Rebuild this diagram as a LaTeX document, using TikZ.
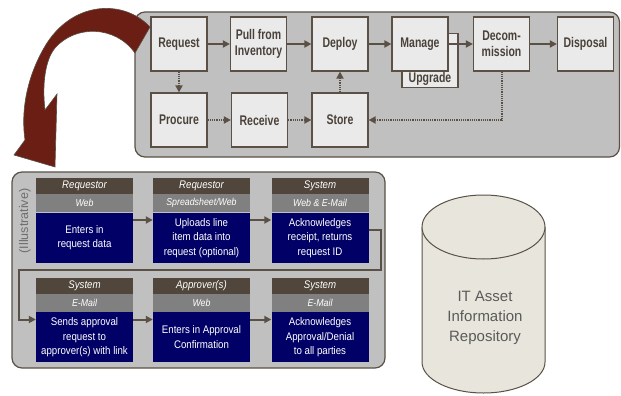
\documentclass[tikz,border=0pt]{standalone}
\usepackage{fontspec}
\setmainfont{Liberation Sans}
\newfontfamily\narrowfont[FakeStretch=0.75]{Liberation Sans}
\newfontfamily\cardfont[FakeStretch=0.88]{Liberation Sans}
\usetikzlibrary{arrows.meta,positioning}
\definecolor{edge}{RGB}{90,80,70}
\definecolor{panel}{RGB}{192,192,192}
\definecolor{boxfill}{RGB}{234,234,234}
\definecolor{boxtext}{RGB}{74,66,58}
\definecolor{headbrown}{RGB}{80,70,60}
\definecolor{toolgray}{RGB}{128,128,128}
\definecolor{navy}{RGB}{0,0,102}
\definecolor{arrowred}{RGB}{107,31,20}
\definecolor{cylfill}{RGB}{232,230,220}
\definecolor{repotext}{RGB}{90,90,90}
\definecolor{illgray}{RGB}{110,110,110}
\begin{document}
\begin{tikzpicture}[x=1pt, y=-1pt,
  box/.style={draw=edge, line width=1.2pt, fill=boxfill, minimum width=56pt,
    minimum height=54pt, inner sep=1pt, align=center, text=boxtext,
    font=\narrowfont\bfseries\fontsize{14}{16.5}\selectfont},
  flow/.style={draw=edge, line width=2pt, -{Triangle[length=7pt,width=7pt]}},
  flowdot/.style={flow, dash pattern=on 1.2pt off 1pt},
  card/.style={minimum width=97pt, minimum height=84pt, inner sep=0pt},
  head/.style={fill=headbrown, text=white, minimum width=97pt, minimum height=16pt,
    inner sep=0pt, anchor=north, font=\cardfont\itshape\fontsize{11}{11}\selectfont},
  tool/.style={fill=toolgray, text=white, minimum width=97pt, minimum height=18pt,
    inner sep=0pt, font=\cardfont\itshape\fontsize{10}{10}\selectfont},
  body/.style={fill=navy, text=white, minimum width=97pt, minimum height=50pt,
    inner sep=0pt, align=center, font=\cardfont\fontsize{11}{14.5}\selectfont}]
  \useasboundingbox (0,0) rectangle (621,396);
  % lifecycle panel
  \draw[edge, fill=panel, line width=1.2pt, rounded corners=10pt] (135,12) rectangle (619.5,157);
  % big curved arrow down to the request steps
  \filldraw[fill=arrowred, draw=edge, line width=0.6pt]
    (150,27) .. controls (125,0) and (75,0) .. (47,43)
    .. controls (30,70) and (20,105) .. (25,140) -- (14,155) -- (55,167) -- (57,94)
    -- (45,110) .. controls (42,85) and (45,60) .. (55,48)
    .. controls (75,25) and (115,25) .. (135,53) -- cycle;
  % lifecycle boxes
  \node[box, label={[anchor=south, inner sep=2pt, text=boxtext,
    font=\narrowfont\bfseries\fontsize{14}{16.5}\selectfont]south:Upgrade}]
    (upgrade) at (430,60.5) {};
  \node[box] (request) at (179,44) {Request};
  \node[box] (pull) at (258.5,44) {Pull from\\Inventory};
  \node[box] (deploy) at (340,44) {Deploy};
  \node[box] (manage) at (420,44) {Manage};
  \node[box] (decom) at (501.5,44) {Decom-\\mission};
  \node[box] (disposal) at (585.5,44) {Disposal};
  \node[box] (procure) at (179,120) {Procure};
  \node[box] (receive) at (259.5,120) {Receive};
  \node[box] (store) at (340,120) {Store};
  \draw[flow] (request) -- (pull);
  \draw[flow] (pull) -- (deploy);
  \draw[flow] (deploy) -- (manage);
  \draw[flow] (manage) -- (decom);
  \draw[flow] (decom) -- (disposal);
  \draw[flowdot] (request) -- (procure);
  \draw[flowdot] (procure) -- (receive);
  \draw[flowdot] (receive) -- (store);
  \draw[flowdot] (store) -- (deploy);
  \draw[flowdot] (decom.south) |- (store.east);
  % request steps panel
  \draw[edge, fill=panel, line width=1.2pt, rounded corners=10pt] (12,172) rectangle (385,368);
  \node[rotate=90, text=illgray, font=\fontsize{12.5}{14}\selectfont] (illus) at (25,221) {(Illustrative)};
  % first row
  \node[card] (c1) at (84.5,220) {};
  \node[head] (c1h) at (c1.north) {Requestor};
  \node[tool, below=0pt of c1h] (c1t) {Web};
  \node[body, below=0pt of c1t] (c1b) {Enters in\\request data};
  \node[card] (c2) at (201.5,220) {};
  \node[head] (c2h) at (c2.north) {Requestor};
  \node[tool, below=0pt of c2h] (c2t) {Spreadsheet/Web};
  \node[body, below=0pt of c2t] (c2b) {Uploads line\\item data into\\request (optional)};
  \node[card] (c3) at (320,220) {};
  \node[head] (c3h) at (c3.north) {System};
  \node[tool, below=0pt of c3h] (c3t) {Web \& E-Mail};
  \node[body, below=0pt of c3t] (c3b) {Acknowledges\\receipt, returns\\request ID};
  % second row
  \node[card] (c4) at (84.5,319.5) {};
  \node[head] (c4h) at (c4.north) {System};
  \node[tool, below=0pt of c4h] (c4t) {E-Mail};
  \node[body, below=0pt of c4t] (c4b) {Sends approval\\request to\\approver(s) with link};
  \node[card] (c5) at (201.5,319.5) {};
  \node[head] (c5h) at (c5.north) {Approver(s)};
  \node[tool, below=0pt of c5h] (c5t) {Web};
  \node[body, below=0pt of c5t] (c5b) {Enters in Approval\\Confirmation};
  \node[card] (c6) at (320,319.5) {};
  \node[head] (c6h) at (c6.north) {System};
  \node[tool, below=0pt of c6h] (c6t) {E-Mail};
  \node[body, below=0pt of c6t] (c6b) {Acknowledges\\Approval/Denial\\to all parties};
  \coordinate (bend) at (381,270);
  \draw[flow] (c1) -- (c2);
  \draw[flow] (c2) -- (c3);
  \draw[flow] ([yshift=-10pt]c3.east) -| (bend) -| ([xshift=-17pt]c4.west) -- (c4.west);
  \draw[flow] (c4) -- (c5);
  \draw[flow] (c5) -- (c6);
  % asset repository
  \filldraw[fill=cylfill, draw=edge, line width=1pt] (422,227) -- (422,362)
    arc[start angle=180, end angle=360, x radius=61.5pt, y radius=31pt] -- (545,227);
  \filldraw[fill=cylfill, draw=edge, line width=1pt] (483.5,227) ellipse [x radius=61.5pt, y radius=32pt];
  \node[align=center, text=repotext, font=\fontsize{15}{20}\selectfont] (repo) at (485,318) {IT Asset\\Information\\Repository};
\end{tikzpicture}
\end{document}
